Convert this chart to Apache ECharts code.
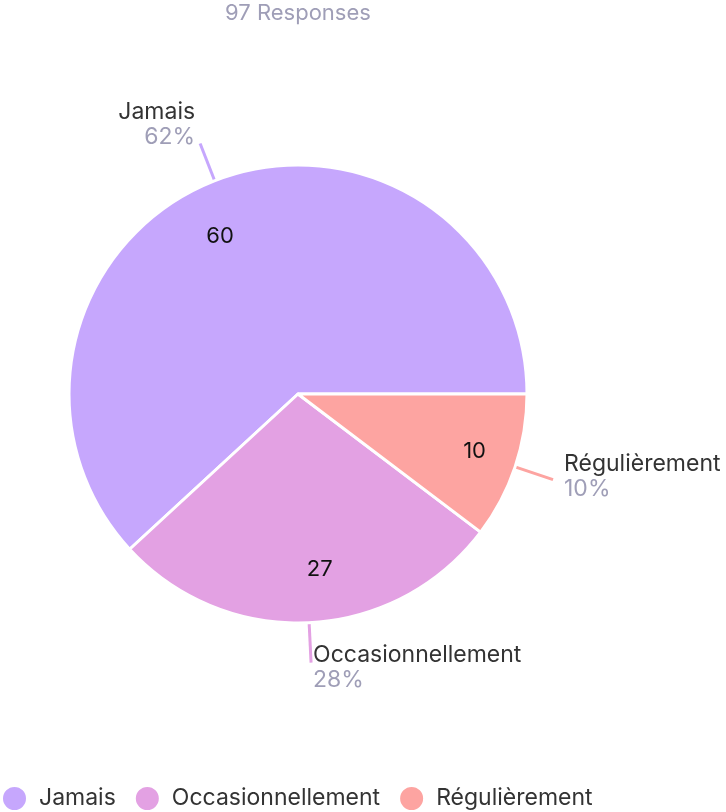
<!DOCTYPE html>
<html>
<head>
<meta charset="utf-8">
<style>html,body{margin:0;padding:0;background:#fff;}#chart{width:726px;height:812px;}</style>
<script src="https://cdn.jsdelivr.net/npm/echarts@6/dist/echarts.min.js"></script>
</head>
<body>
<div id="chart"></div>
<script>
const categories = ['Jamais', 'Occasionnellement', 'Régulièrement'];
const values = [60, 27, 10];
const colors = ['#c6a7fd', '#e3a1e3', '#fda4a1'];
const titleText = '97 Responses';

const FONT = 'Inter';
const FS = 23;
// per-slice label tweaks (style only)
const outerTweaks = [
  { padding: [0, 0, 38, 0], dist: 5 },
  { padding: [10, 0, 0, 0], dist: 2 },
  { padding: [0, 0, 6, 0], dist: 11 }
];
const innerOffsets = [[-12, 11], [13, -5], [5, 0]];

const outerData = categories.map((c, i) => ({
  name: c, value: values[i],
  itemStyle: { color: colors[i] },
  label: { padding: outerTweaks[i].padding, distanceToLabelLine: outerTweaks[i].dist },
  labelLine: { lineStyle: { color: colors[i] } }
}));
const innerData = categories.map((c, i) => ({
  name: c, value: values[i],
  label: { offset: innerOffsets[i] }
}));

const chart = echarts.init(document.getElementById('chart'));
chart.setOption({
  animation: false,
  color: colors,
  title: {
    text: titleText, left: 298, top: 2, textAlign: 'center', padding: 0,
    textStyle: { fontFamily: FONT, fontSize: 22, fontWeight: 'normal', fontStyle: 'normal', color: '#9f9eb7' }
  },
  legend: {
    data: categories, left: 1, top: 785, padding: 0,
    icon: 'circle', itemWidth: 25, itemHeight: 25, itemGap: 18,
    textStyle: { fontFamily: FONT, fontSize: FS, color: '#333333', padding: [0, 0, 0, 7] }
  },
  series: [
    {
      type: 'pie', left: 0, top: 0, right: -200, bottom: 0,
      center: [298, 394], radius: [0, 229],
      startAngle: 0, clockwise: false, avoidLabelOverlap: false,
      percentPrecision: 0,
      itemStyle: { borderColor: '#ffffff', borderWidth: 3 },
      label: {
        show: true, position: 'outside', bleedMargin: 0,
        formatter: '{n|{b}}\n{p|{d}%}',
        rich: {
          n: { fontFamily: FONT, fontSize: FS, color: '#333333', lineHeight: 25 },
          p: { fontFamily: FONT, fontSize: FS, color: '#9f9eb7', lineHeight: 25 }
        }
      },
      labelLine: { show: true, length: 40, length2: 0, lineStyle: { width: 3 } },
      emphasis: { disabled: true },
      data: outerData
    },
    {
      type: 'pie', silent: true, left: 0, top: 0, right: -200, bottom: 0,
      center: [298, 394], radius: [127, 229],
      startAngle: 0, clockwise: false,
      itemStyle: { color: 'rgba(0,0,0,0)', borderWidth: 0 },
      label: { show: true, position: 'inside', formatter: '{c}', fontFamily: FONT, fontSize: 22, color: '#111111' },
      labelLine: { show: false },
      emphasis: { disabled: true },
      data: innerData
    }
  ]
});
</script>
</body>
</html>
